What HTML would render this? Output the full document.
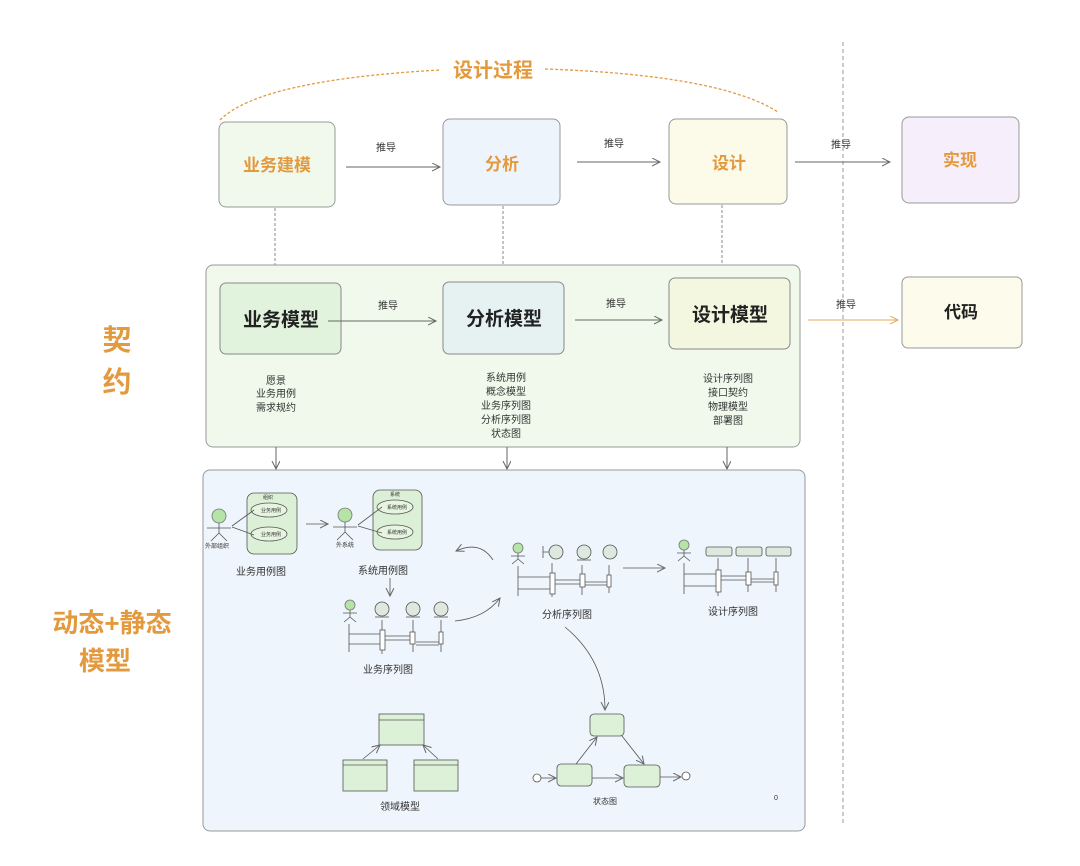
<!DOCTYPE html>
<html><head><meta charset="utf-8"><style>
html,body{margin:0;padding:0;background:#fff}
svg{display:block}
text{font-family:"Liberation Sans","Noto Sans CJK SC",sans-serif}
.b{font-weight:bold}
</style></head><body>
<svg width="1080" height="866" viewBox="0 0 1080 866" xmlns="http://www.w3.org/2000/svg">
<defs>
<marker id="a" markerWidth="10" markerHeight="10" refX="8" refY="4" orient="auto" markerUnits="userSpaceOnUse"><path d="M0,0 L8,4 L0,8" fill="none" stroke="#666" stroke-width="1"/></marker>
<marker id="ao" markerWidth="10" markerHeight="10" refX="8" refY="4" orient="auto" markerUnits="userSpaceOnUse"><path d="M0,0 L8,4 L0,8" fill="none" stroke="#e8a85a" stroke-width="1"/></marker>
</defs>
<line x1="843" y1="42" x2="843" y2="826" stroke="#999" stroke-dasharray="4,3" stroke-width="1"/>
<path d="M220,120 Q260,80 440,70" fill="none" stroke="#e39a3f" stroke-width="1.3" stroke-dasharray="3,2"/>
<path d="M545,69 Q720,75 778,112" fill="none" stroke="#e39a3f" stroke-width="1.3" stroke-dasharray="3,2"/>
<text x="493" y="77" font-size="20" fill="#e39a3f" text-anchor="middle" class="b">设计过程</text>
<rect x="219" y="122" width="116" height="85" rx="7" fill="#f1f9ec" stroke="#999"/>
<text x="277" y="171" font-size="17" fill="#e39a3f" text-anchor="middle" class="b">业务建模</text>
<rect x="443" y="119" width="117" height="86" rx="7" fill="#edf4fc" stroke="#999"/>
<text x="502" y="170" font-size="17" fill="#e39a3f" text-anchor="middle" class="b">分析</text>
<rect x="669" y="119" width="118" height="85" rx="7" fill="#fcfbea" stroke="#999"/>
<text x="729" y="169" font-size="17" fill="#e39a3f" text-anchor="middle" class="b">设计</text>
<rect x="902" y="117" width="117" height="86" rx="7" fill="#f6eefb" stroke="#999"/>
<text x="960" y="166" font-size="17" fill="#e39a3f" text-anchor="middle" class="b">实现</text>
<line x1="346" y1="167" x2="440" y2="167" stroke="#666" marker-end="url(#a)"/>
<text x="386" y="151" font-size="10" fill="#333" text-anchor="middle">推导</text>
<line x1="577" y1="162" x2="660" y2="162" stroke="#666" marker-end="url(#a)"/>
<text x="614" y="147" font-size="10" fill="#333" text-anchor="middle">推导</text>
<line x1="795" y1="162" x2="890" y2="162" stroke="#666" marker-end="url(#a)"/>
<text x="841" y="148" font-size="10" fill="#333" text-anchor="middle">推导</text>
<line x1="275" y1="208" x2="275" y2="277" stroke="#888" stroke-dasharray="3,2" marker-end="url(#a)"/>
<line x1="503" y1="206" x2="503" y2="275" stroke="#888" stroke-dasharray="3,2" marker-end="url(#a)"/>
<line x1="722" y1="205" x2="722" y2="275" stroke="#888" stroke-dasharray="3,2" marker-end="url(#a)"/>
<rect x="206" y="265" width="594" height="182" rx="7" fill="#f0f9ec" stroke="#999"/>
<rect x="220" y="283" width="121" height="71" rx="6" fill="#e1f3dc" stroke="#888"/>
<text x="281" y="326" font-size="19" fill="#222" text-anchor="middle" class="b">业务模型</text>
<rect x="443" y="282" width="121" height="72" rx="6" fill="#e6f2f2" stroke="#888"/>
<text x="504" y="325" font-size="19" fill="#222" text-anchor="middle" class="b">分析模型</text>
<rect x="669" y="278" width="121" height="71" rx="6" fill="#f4f7df" stroke="#888"/>
<text x="730" y="321" font-size="19" fill="#222" text-anchor="middle" class="b">设计模型</text>
<rect x="902" y="277" width="120" height="71" rx="6" fill="#fdfbec" stroke="#999"/>
<text x="961" y="318" font-size="17" fill="#222" text-anchor="middle" class="b">代码</text>
<line x1="328" y1="321" x2="436" y2="321" stroke="#666" marker-end="url(#a)"/>
<text x="388" y="309" font-size="10" fill="#333" text-anchor="middle">推导</text>
<line x1="575" y1="320" x2="662" y2="320" stroke="#666" marker-end="url(#a)"/>
<text x="616" y="307" font-size="10" fill="#333" text-anchor="middle">推导</text>
<line x1="808" y1="320" x2="898" y2="320" stroke="#e8a85a" marker-end="url(#ao)"/>
<text x="846" y="308" font-size="10" fill="#333" text-anchor="middle">推导</text>
<g font-size="10" fill="#333" text-anchor="middle">
<text x="276" y="384">愿景</text><text x="276" y="397">业务用例</text><text x="276" y="411">需求规约</text>
<text x="506" y="381">系统用例</text><text x="506" y="395">概念模型</text><text x="506" y="409">业务序列图</text><text x="506" y="423">分析序列图</text><text x="506" y="437">状态图</text>
<text x="728" y="382">设计序列图</text><text x="728" y="396">接口契约</text><text x="728" y="410">物理模型</text><text x="728" y="424">部署图</text>
</g>
<text x="117" y="350" font-size="29" fill="#e39a3f" text-anchor="middle" class="b">契</text>
<text x="117" y="392" font-size="29" fill="#e39a3f" text-anchor="middle" class="b">约</text>
<text x="112" y="632" font-size="26" fill="#e39a3f" text-anchor="middle" class="b">动态+静态</text>
<text x="105" y="670" font-size="26" fill="#e39a3f" text-anchor="middle" class="b">模型</text>
<line x1="276" y1="447" x2="276" y2="469" stroke="#666" marker-end="url(#a)"/>
<line x1="507" y1="447" x2="507" y2="469" stroke="#666" marker-end="url(#a)"/>
<line x1="727" y1="447" x2="727" y2="469" stroke="#666" marker-end="url(#a)"/>
<rect x="203" y="470" width="602" height="361" rx="7" fill="#eef5fc" stroke="#999"/>
<g stroke="#555" stroke-width="0.8" fill="none">
<circle cx="219" cy="516" r="7" fill="#b6e3a6" stroke="#777"/>
<path d="M219,523 V533 M207,528 H231 M219,533 L211,541 M219,533 L227,541"/>
<rect x="247" y="493" width="50" height="61" rx="7" fill="#dcefd7"/>
<ellipse cx="269" cy="510" rx="18" ry="7" fill="#e6f4e0"/>
<ellipse cx="269" cy="534" rx="18" ry="7" fill="#e6f4e0"/>
<path d="M232,526 L254,510 M232,527 L254,535"/>
<circle cx="345" cy="515" r="7" fill="#b6e3a6" stroke="#777"/>
<path d="M345,522 V532 M333,527 H357 M345,532 L337,540 M345,532 L353,540"/>
<rect x="373" y="490" width="49" height="60" rx="7" fill="#dcefd7"/>
<ellipse cx="395" cy="507" rx="18" ry="7" fill="#e6f4e0"/>
<ellipse cx="395" cy="532" rx="18" ry="7" fill="#e6f4e0"/>
<path d="M358,525 L382,507 M358,526 L382,533"/>
<line x1="306" y1="524" x2="328" y2="524" marker-end="url(#a)"/>
<line x1="390" y1="578" x2="390" y2="596" marker-end="url(#a)"/>
<circle cx="350" cy="605" r="5" fill="#b6e3a6" stroke="#777"/>
<path d="M350,610 V617 M343,613 H357 M350,617 L344,622 M350,617 L356,622"/>
<circle cx="382" cy="609" r="7" fill="#dde9de"/><line x1="375" y1="617" x2="389" y2="617"/>
<circle cx="413" cy="609" r="7" fill="#dde9de"/><line x1="406" y1="617" x2="420" y2="617"/>
<circle cx="441" cy="609" r="7" fill="#dde9de"/><line x1="434" y1="617" x2="448" y2="617"/>
<path d="M349,624 V652 M382,620 V654 M413,620 V652 M441,620 V652 M349,634 H380 M349,644 H380 M385,636 H410 M385,640 H410 M416,642 H439 M416,645 H439"/>
<rect x="380" y="630" width="5" height="20" fill="#fff"/>
<rect x="410" y="632" width="5" height="12" fill="#fff"/>
<rect x="439" y="632" width="4" height="12" fill="#fff"/>
<path d="M455,621 Q485,618 500,598" marker-end="url(#a)"/>
<circle cx="518" cy="548" r="5" fill="#b6e3a6" stroke="#777"/>
<path d="M518,553 V559 M511,556 H525 M518,559 L512,564 M518,559 L524,564"/>
<path d="M543,546 V558 M543,552 H549"/>
<circle cx="556" cy="552" r="7" fill="#dde9de"/>
<circle cx="584" cy="552" r="7" fill="#dde9de"/><line x1="577" y1="560" x2="591" y2="560"/>
<circle cx="610" cy="552" r="7" fill="#dde9de"/>
<path d="M518,566 V596 M552,563 V597 M582,565 V595 M609,565 V593 M518,577 H550 M518,589 H550 M555,580 H580 M555,584 H580 M585,582 H607 M585,585 H607"/>
<rect x="550" y="573" width="5" height="21" fill="#fff"/>
<rect x="580" y="574" width="5" height="13" fill="#fff"/>
<rect x="607" y="575" width="4" height="12" fill="#fff"/>
<path d="M493,560 Q480,540 456,551" marker-end="url(#a)"/>
<line x1="623" y1="568" x2="665" y2="568" marker-end="url(#a)"/>
<circle cx="684" cy="545" r="5" fill="#b6e3a6" stroke="#777"/>
<path d="M684,550 V556 M677,553 H691 M684,556 L678,561 M684,556 L690,561"/>
<rect x="706" y="547" width="26" height="9" rx="2" fill="#dce9dc"/>
<rect x="736" y="547" width="26" height="9" rx="2" fill="#dce9dc"/>
<rect x="766" y="547" width="25" height="9" rx="2" fill="#dce9dc"/>
<path d="M684,563 V594 M718,558 V596 M748,558 V592 M776,558 V592 M684,574 H716 M684,586 H716 M721,576 H746 M721,580 H746 M750,579 H774 M750,582 H774"/>
<rect x="716" y="570" width="5" height="22" fill="#fff"/>
<rect x="746" y="572" width="5" height="13" fill="#fff"/>
<rect x="774" y="572" width="4" height="13" fill="#fff"/>
<path d="M565,627 Q605,660 605,710" marker-end="url(#a)"/>
<rect x="590" y="714" width="34" height="22" rx="4" fill="#ddf0d8"/>
<rect x="557" y="764" width="35" height="22" rx="4" fill="#ddf0d8"/>
<rect x="624" y="765" width="36" height="22" rx="4" fill="#ddf0d8"/>
<circle cx="537" cy="778" r="4" fill="#fff"/>
<circle cx="686" cy="776" r="4" fill="#fff"/>
<line x1="541" y1="778" x2="556" y2="778" marker-end="url(#a)"/>
<line x1="592" y1="778" x2="623" y2="778" marker-end="url(#a)"/>
<line x1="660" y1="777" x2="681" y2="777" marker-end="url(#a)"/>
<line x1="576" y1="764" x2="597" y2="737" marker-end="url(#a)"/>
<line x1="622" y1="736" x2="644" y2="764" marker-end="url(#a)"/>
<rect x="379" y="714" width="45" height="31" fill="#ddf0d8"/><line x1="379" y1="720" x2="424" y2="720"/>
<rect x="343" y="760" width="44" height="31" fill="#ddf0d8"/><line x1="343" y1="765" x2="387" y2="765"/>
<rect x="414" y="760" width="44" height="31" fill="#ddf0d8"/><line x1="414" y1="765" x2="458" y2="765"/>
<line x1="363" y1="759" x2="380" y2="745" marker-end="url(#a)"/>
<line x1="438" y1="759" x2="423" y2="745" marker-end="url(#a)"/>
</g>
<g fill="#333" text-anchor="middle">
<text x="268" y="499" font-size="5">组织</text>
<text x="271" y="512" font-size="5">业务用例</text>
<text x="271" y="536" font-size="5">业务用例</text>
<text x="217" y="548" font-size="6">外部组织</text>
<text x="395" y="496" font-size="5">系统</text>
<text x="397" y="509" font-size="5">系统用例</text>
<text x="397" y="534" font-size="5">系统用例</text>
<text x="345" y="547" font-size="6">外系统</text>
<text x="261" y="575" font-size="10">业务用例图</text>
<text x="383" y="574" font-size="10">系统用例图</text>
<text x="388" y="673" font-size="10">业务序列图</text>
<text x="567" y="618" font-size="10">分析序列图</text>
<text x="733" y="615" font-size="10">设计序列图</text>
<text x="605" y="804" font-size="8">状态图</text>
<text x="400" y="810" font-size="10">领域模型</text>
<text x="776" y="800" font-size="7">0</text>
</g>
</svg>
</body></html>
